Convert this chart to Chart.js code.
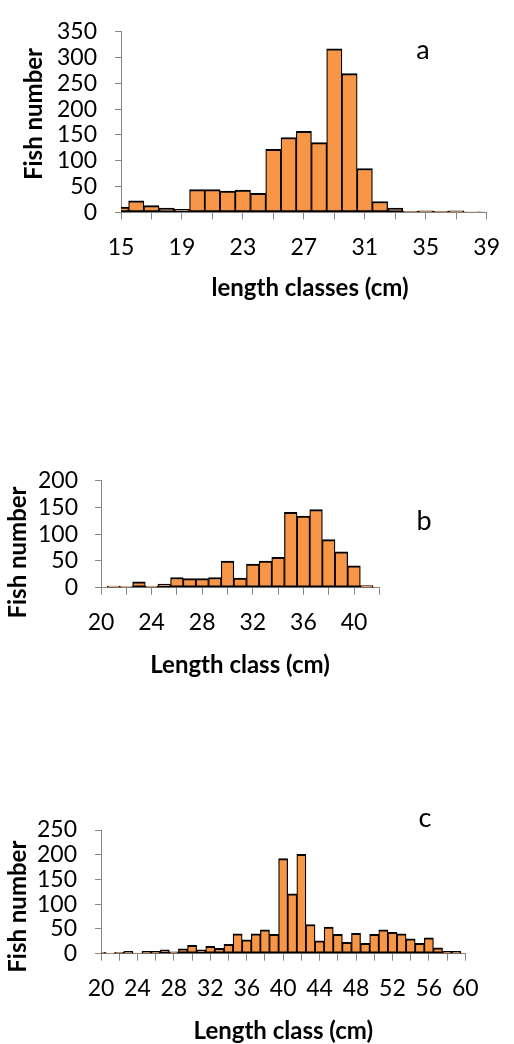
<!DOCTYPE html>
<html>
<head>
<meta charset="utf-8">
<script src="https://cdn.jsdelivr.net/npm/chart.js@4.4.1/dist/chart.umd.min.js"></script>
<style>
html, body { margin: 0; padding: 0; background: #ffffff; width: 514px; height: 1044px; overflow: hidden; }
.wrap { position: absolute; left: 0; width: 514px; }
canvas { display: block; }
</style>
</head>
<body>
<div class="wrap" style="top:0px;height:300px"><canvas id="chartA" width="514" height="300"></canvas></div>
<div class="wrap" style="top:450px;height:240px"><canvas id="chartB" width="514" height="240"></canvas></div>
<div class="wrap" style="top:790px;height:254px"><canvas id="chartC" width="514" height="254"></canvas></div>
<script>
// ---- Data ----
const lengthsA = [15,16,17,18,19,20,21,22,23,24,25,26,27,28,29,30,31,32,33,34,35,36,37,38,39];
const countsA  = [10,22,13,8,6,44,44,41,43,37,122,145,157,135,317,269,85,21,8,2,3,2,3,1,1];
const tickLabelsA = [15,19,23,27,31,35,39];

const lengthsB = [20,21,22,23,24,25,26,27,28,29,30,31,32,33,34,35,36,37,38,39,40,41,42];
const countsB  = [0,3,2,11,3,7,19,17,17,19,50,18,44,50,57,141,134,146,90,67,41,4,1];
const tickLabelsB = [20,24,28,32,36,40];

const lengthsC = [20,21,22,23,24,25,26,27,28,29,30,31,32,33,34,35,36,37,38,39,40,41,42,43,44,45,46,47,48,49,50,51,52,53,54,55,56,57,58,59,60];
const countsC  = [3,1,3,5,1,5,5,8,4,10,17,8,15,11,19,40,28,40,48,39,192,121,201,59,26,54,39,23,41,21,39,48,43,40,30,21,32,12,5,5,1];
const tickLabelsC = [20,24,28,32,36,40,44,48,52,56,60];

const FONT = "Lato, Carlito, Calibri, 'Open Sans', sans-serif";
const AXIS_GRAY = '#868686';
const BAR_FILL = '#F79646';

const textPlugin = {
  id: 'panelText',
  afterDraw(chart, args, opts) {
    const ctx = chart.ctx;
    (opts.items || []).forEach(it => {
      ctx.save();
      ctx.fillStyle = '#000000';
      ctx.font = it.font;
      ctx.textAlign = 'center';
      ctx.textBaseline = it.baseline || 'middle';
      ctx.translate(it.x, it.y);
      if (it.rotate) ctx.rotate(it.rotate);
      ctx.fillText(it.text, 0, 0);
      ctx.restore();
    });
  }
};

function makeChart(id, lengths, counts, tickLabels, cfg) {
  return new Chart(document.getElementById(id), {
    type: 'bar',
    data: {
      datasets: [{
        data: lengths.map((x, i) => ({ x: x, y: counts[i] })),
        backgroundColor: BAR_FILL,
        borderColor: '#000000',
        borderWidth: { top: 2, bottom: 2, left: 1.25, right: 1.25 },
        borderSkipped: false,
        barPercentage: 1,
        categoryPercentage: 1,
        clip: 0
      }]
    },
    options: {
      responsive: false,
      animation: false,
      devicePixelRatio: 1,
      layout: { padding: { left: 0, top: cfg.top, right: cfg.right, bottom: 0 } },
      scales: {
        x: {
          type: 'linear',
          min: cfg.xmin,
          max: cfg.xmax,
          offset: false,
          grid: { offset: false, drawOnChartArea: false, tickLength: 7, color: AXIS_GRAY, lineWidth: 1 },
          border: { color: AXIS_GRAY, width: 1 },
          ticks: {
            stepSize: 2,
            autoSkip: false,
            maxRotation: 0,
            padding: 14,
            color: '#000000',
            font: { family: FONT, size: 23 },
            callback: v => tickLabels.includes(v) ? String(v) : ''
          },
          afterFit: s => { s.height = cfg.xh; }
        },
        y: {
          min: 0,
          max: cfg.ymax,
          grid: { drawOnChartArea: false, tickLength: 6, color: AXIS_GRAY, lineWidth: 1 },
          border: { color: AXIS_GRAY, width: 1 },
          ticks: {
            stepSize: 50,
            autoSkip: false,
            padding: cfg.ypad,
            color: '#000000',
            font: { family: FONT, size: 23 }
          },
          afterFit: s => { s.width = cfg.left; }
        }
      },
      plugins: {
        legend: { display: false },
        tooltip: { enabled: false },
        panelText: { items: cfg.texts }
      }
    },
    plugins: [textPlugin]
  });
}

const BOLD = "bold 24px " + FONT;
const LETTER = "27px " + FONT;

makeChart('chartA', lengthsA, countsA, tickLabelsA, {
  xmin: 15, xmax: 39, ymax: 350, top: 15.7, right: 15, left: 121, xh: 87.7, ypad: 18,
  texts: [
    { text: 'Fish number', x: 34, y: 114, rotate: -Math.PI / 2, font: BOLD },
    { text: 'length classes (cm)', x: 310, y: 288, font: BOLD },
    { text: 'a', x: 423, y: 59.3, baseline: 'alphabetic', font: LETTER }
  ]
});

makeChart('chartB', lengthsB, countsB, tickLabelsB, {
  xmin: 20, xmax: 42, ymax: 200, top: 25, right: 134.7, left: 101, xh: 102.3, ypad: 17,
  texts: [
    { text: 'Fish number', x: 18.3, y: 102.5, rotate: -Math.PI / 2, font: BOLD },
    { text: 'Length class (cm)', x: 240, y: 215, font: BOLD },
    { text: 'b', x: 424, y: 80, baseline: 'alphabetic', font: LETTER }
  ]
});

makeChart('chartC', lengthsC, countsC, tickLabelsC, {
  xmin: 20, xmax: 60, ymax: 250, top: 40, right: 48.7, left: 101, xh: 90.3, ypad: 18,
  texts: [
    { text: 'Fish number', x: 18.3, y: 116.7, rotate: -Math.PI / 2, font: BOLD },
    { text: 'Length class (cm)', x: 283.3, y: 241, font: BOLD },
    { text: 'c', x: 425, y: 37, baseline: 'alphabetic', font: LETTER }
  ]
});
</script>
</body>
</html>
